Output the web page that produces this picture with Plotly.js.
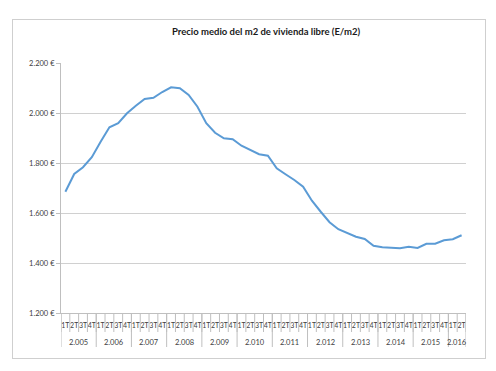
<!DOCTYPE html>
<html>
<head>
<meta charset="utf-8">
<script src="https://cdn.plot.ly/plotly-3.0.1.min.js"></script>
<style>
  html, body { margin: 0; padding: 0; background: #fff; }
  #chart { width: 496px; height: 371px; position: relative; }
  #frame { position: absolute; left: 12px; top: 19px; width: 472px; height: 338px;
           border: 1.5px solid #cfcfcf; pointer-events: none; }
</style>
</head>
<body>
<div id="chart"></div>
<div id="frame"></div>
<script>
// ---- data ----
const years = ['2.005','2.006','2.007','2.008','2.009','2.010','2.011','2.012','2.013','2.014','2.015','2.016'];
const quarters = ['1T','2T','3T','4T'];
const quartersPerYear = [4,4,4,4,4,4,4,4,4,4,4,2];
const prices = [
  1685, 1756, 1783, 1823,
  1885, 1943, 1959, 1999,
  2029, 2056, 2061, 2084,
  2103, 2099, 2072, 2025,
  1959, 1921, 1899, 1895,
  1869, 1852, 1835, 1829,
  1779, 1755, 1732, 1705,
  1649, 1605, 1563, 1535,
  1519, 1505, 1496, 1469,
  1463, 1461, 1459, 1465,
  1460, 1477, 1477, 1491,
  1495, 1511
];
const title = 'Precio medio del m2 de vivienda libre (E/m2)';

// ---- build category labels ----
const qLabels = [];
const idx = [];
quartersPerYear.forEach(n => { for (let q = 0; q < n; q++) qLabels.push(quarters[q]); });
for (let i = 0; i < prices.length; i++) idx.push(i);

// plot-area geometry (px)
const M = {l: 61, r: 30, t: 63, b: 58};
const plotH = 371 - M.t - M.b;
const pxToPaperY = px => -(px) / plotH; // px below axis -> paper y

const shapes = [];
const annotations = [];
let start = 0;
// quarter boundaries (short ticks)
for (let i = 0; i <= prices.length; i++) {
  shapes.push({type: 'line', xref: 'x', yref: 'paper', x0: i - 0.5, x1: i - 0.5,
    y0: 0, y1: pxToPaperY(19), line: {color: '#bfbfbf', width: 1}});
}
// year dividers and year labels
quartersPerYear.forEach((n, k) => {
  shapes.push({type: 'line', xref: 'x', yref: 'paper', x0: start - 0.5, x1: start - 0.5,
    y0: 0, y1: pxToPaperY(34), line: {color: '#bfbfbf', width: 1}});
  annotations.push({xref: 'x', yref: 'paper', x: start + (n - 1) / 2, y: pxToPaperY(29),
    text: years[k], showarrow: false, yanchor: 'middle', xanchor: 'center',
    font: {family: 'Lato, sans-serif', size: 7.5, color: '#404040'}});
  start += n;
});
shapes.push({type: 'line', xref: 'x', yref: 'paper', x0: start - 0.5, x1: start - 0.5,
  y0: 0, y1: pxToPaperY(34), line: {color: '#bfbfbf', width: 1}});

const trace = {
  x: idx, y: prices, type: 'scatter', mode: 'lines',
  line: {color: '#5B9BD5', width: 2}, hoverinfo: 'y'
};

const layout = {
  width: 496, height: 371,
  margin: M,
  paper_bgcolor: '#ffffff', plot_bgcolor: '#ffffff',
  separators: ',.',
  showlegend: false,
  title: {text: '<b>' + title + '</b>', x: 266 / 496, xanchor: 'center', y: 1 - 32 / 371, yanchor: 'middle',
    font: {family: 'Lato, sans-serif', size: 9.5, color: '#1a1a1a'}},
  xaxis: {
    range: [-0.5, prices.length - 0.5], tickmode: 'array', tickvals: idx, ticktext: qLabels,
    tickangle: 0, ticks: '', showgrid: false, zeroline: false,
    showline: true, linecolor: '#bfbfbf', linewidth: 1,
    ticklabelstandoff: 6,
    tickfont: {family: 'Lato, sans-serif', size: 7, color: '#404040'}
  },
  yaxis: {
    range: [1200, 2200], dtick: 200, tick0: 1200, tickformat: ',d', ticksuffix: ' €',
    showgrid: true, gridcolor: '#d0d0d0', gridwidth: 1, zeroline: false,
    showline: true, linecolor: '#bfbfbf', linewidth: 1,
    ticks: 'outside', ticklen: 4, tickcolor: '#bfbfbf',
    tickfont: {family: 'Lato, sans-serif', size: 7.5, color: '#404040'}
  },
  shapes: shapes,
  annotations: annotations
};

Plotly.newPlot('chart', [trace], layout, {displayModeBar: false, staticPlot: true});
</script>
</body>
</html>
